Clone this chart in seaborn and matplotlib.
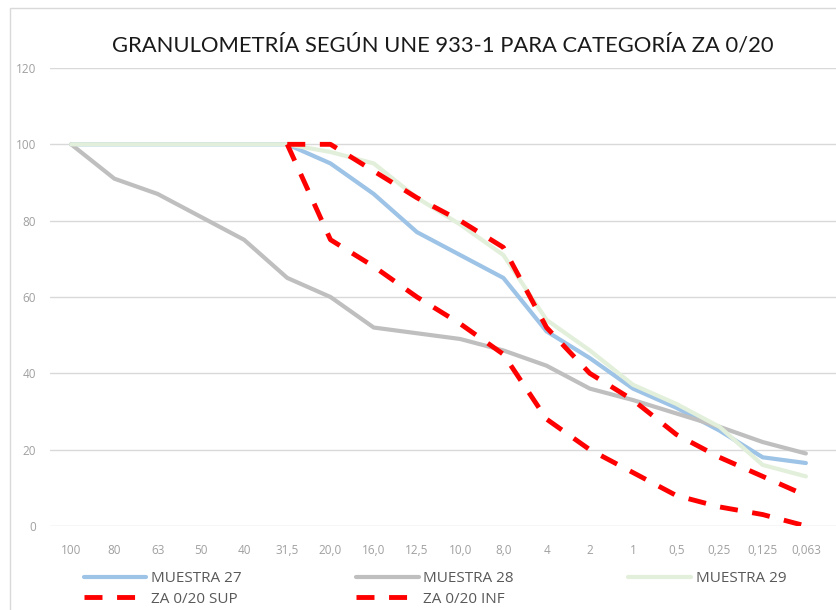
import numpy as np
import pandas as pd
import matplotlib.pyplot as plt
import matplotlib.patches as mpatches
import seaborn as sns

# datos
tamices = ['100', '80', '63', '50', '40', '31,5', '20,0', '16,0', '12,5', '10,0',
           '8,0', '4', '2', '1', '0,5', '0,25', '0,125', '0,063']
muestra_27 = [100, 100, 100, 100, 100, 100, 95, 87, 77, 71, 65, 51, 44, 36, 31, 25, 18, 16.5]
muestra_28 = [100, 91, 87, 81, 75, 65, 60, 52, 50.5, 49, 46, 42, 36, 33, 29.5, 26, 22, 19]
muestra_29 = [100, 100, 100, 100, 100, 100, 98, 95, 86, 79, 71, 54, 46, 37, 32, 26, 16, 13]
za_sup = [np.nan] * 5 + [100, 100, 93, 86, 80, 73, 52, 40, 33, 24, 18, 13, 8]
za_inf = [np.nan] * 5 + [100, 75, 68, 60, 53, 45, 28, 20, 14, 8, 5, 3, 0]

series = {
    'MUESTRA 27': muestra_27,
    'MUESTRA 28': muestra_28,
    'MUESTRA 29': muestra_29,
    'ZA 0/20 SUP': za_sup,
    'ZA 0/20 INF': za_inf,
}
filas = []
for nombre, valores in series.items():
    for i, v in enumerate(valores):
        filas.append({'pos': i, 'pasa': v, 'serie': nombre})
df = pd.DataFrame(filas).dropna()

colores = {
    'MUESTRA 27': '#9DC3E6',
    'MUESTRA 28': '#BFBFBF',
    'MUESTRA 29': '#E2EFDA',
    'ZA 0/20 SUP': '#FF0000',
    'ZA 0/20 INF': '#FF0000',
}
trazos = {
    'MUESTRA 27': '',
    'MUESTRA 28': '',
    'MUESTRA 29': '',
    'ZA 0/20 SUP': (3.7, 3),
    'ZA 0/20 INF': (3.7, 3),
}

sns.set_style('white')
plt.rcParams['font.family'] = ['Open Sans', 'DejaVu Sans']

fig = plt.figure(figsize=(8.37, 6.10), dpi=100)
fig.patches.append(mpatches.Rectangle((10 / 837, -0.1), 2, 1.1 - 8 / 610,
                                      transform=fig.transFigure, fill=False,
                                      edgecolor='#D9D9D9', linewidth=1))
ax = fig.add_axes([50 / 837, (610 - 526) / 610, 787 / 837, 458 / 610])

sns.lineplot(data=df, x='pos', y='pasa', hue='serie', style='serie',
             palette=colores, dashes=trazos, hue_order=list(series),
             style_order=list(series), linewidth=3, sort=False,
             legend='full', ax=ax)
for ln in ax.lines:
    if ln.get_color() == '#FF0000':
        ln.set_linewidth(3.5)

ax.set_xlim(-0.49, 17.72)
ax.set_ylim(0, 120)
ax.set_yticks(range(0, 121, 20))
ax.set_xticks(range(len(tamices)))
ax.set_xticklabels(tamices)
ax.grid(axis='y', color='#D9D9D9', linewidth=1)
ax.set_axisbelow(True)
for s in ax.spines.values():
    s.set_visible(False)
ax.tick_params(axis='both', length=0, labelsize=8.5, labelcolor='#A0A0A0')
ax.tick_params(axis='x', pad=13)
ax.tick_params(axis='y', pad=10)
ax.set_xlabel('')
ax.set_ylabel('')

handles, labels = ax.get_legend_handles_labels()
ax.get_legend().remove()
orden = [0, 3, 1, 4, 2]
leg = fig.legend([handles[i] for i in orden], [labels[i] for i in orden],
                 ncol=3, loc='lower left', bbox_to_anchor=(70 / 837, -0.017),
                 frameon=False, fontsize=11, handlelength=4.1,
                 columnspacing=7.5, labelspacing=0.35, handletextpad=0.3)
for t in leg.get_texts():
    t.set_color('#595959')
for h in leg.get_lines():
    h.set_linewidth(3.5 if h.get_color() == '#FF0000' else 3)

fig.text(443 / 837, 1 - 45 / 610, 'GRANULOMETRÍA SEGÚN UNE 933-1 PARA CATEGORÍA ZA 0/20',
         ha='center', va='center', fontsize=15.8, color='#1A1A1A',
         family=['Lato', 'DejaVu Sans'])

fig.savefig('out.png', dpi=100)
